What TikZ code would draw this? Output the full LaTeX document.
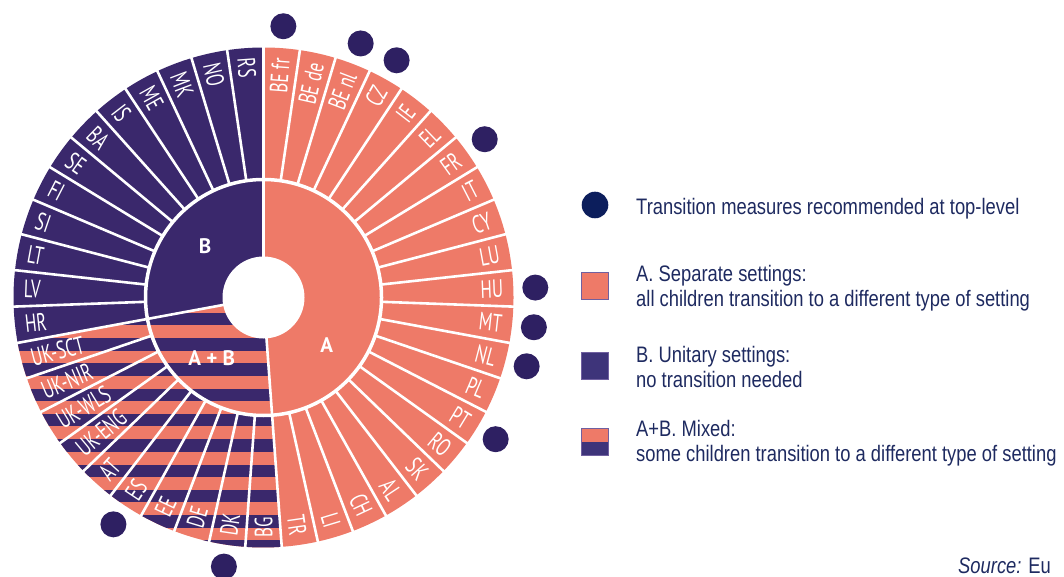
\documentclass[tikz,border=0pt]{standalone}
\usepackage{fontspec}
\setmainfont{Liberation Sans}[FakeStretch=0.82]
\newfontfamily\countryfont{PT Sans}[FakeStretch=0.68]
\newfontfamily\groupfont{PT Sans}
\usetikzlibrary{positioning}

\definecolor{salmon}{RGB}{238,122,104}
\definecolor{unitary}{RGB}{58,40,108}
\definecolor{dotpurple}{RGB}{46,32,98}
\definecolor{legnavy}{RGB}{12,30,92}
\definecolor{legtext}{RGB}{30,42,96}
\definecolor{legunit}{RGB}{62,52,122}
\definecolor{legedge}{RGB}{112,96,160}

\newcommand{\segangle}{8.372093}
% filled sector of the disc between two angles
\newcommand{\drawsector}[3]{
    \fill[#1] (0,0) -- (#2:250) arc[start angle=#2, end angle=#3, radius=250] -- cycle;
}

\begin{document}
\begin{tikzpicture}[x=1pt, y=1pt,
    divider/.style={draw=white, line width=2.6pt},
    country/.style={text=white, inner sep=0pt, font=\countryfont\fontsize{25}{30}\selectfont},
    group/.style={text=white, inner sep=0pt, font=\groupfont\bfseries\fontsize{21}{25}\selectfont},
    topdot/.style={circle, fill=dotpurple, minimum size=26pt, inner sep=0pt},
    legbox/.style={draw=legedge, line width=0.8pt, minimum size=27pt, inner sep=0pt},
    legtxt/.style={text=legtext, inner sep=0pt, anchor=base west, font=\fontsize{22.4}{25}\selectfont}
]
\useasboundingbox (0,0) rectangle (1064,576);

% Centre of the wheel
\coordinate (centre) at (263.5,278.5);

\begin{scope}[shift={(centre)}]
% A and B sectors
\drawsector{salmon}{90}{-85.814}
\drawsector{unitary}{-169.535}{-270}

% A+B sector with stripes
\begin{scope}
    \clip (0,0) -- (-85.814:250) arc[start angle=-85.814, end angle=-169.535, radius=250] -- cycle;
    \fill[salmon] (-260,-260) rectangle (20,20);
    \foreach \k in {-2,...,8} {
        \fill[unitary] (-260,{-40.5-25.3*\k}) rectangle (20,{-53-25.3*\k});
    }
\end{scope}

% Dividers between countries
\foreach \i in {0,...,42} {
    \draw[divider] ({90-\segangle*\i}:118) -- ({90-\segangle*\i}:252);
}
% Dividers between groups
\foreach \a in {90,-85.814,-169.535} {
    \draw[divider] (\a:30) -- (\a:118);
}
\draw[white, line width=3.5pt] (0,0) circle (118);
\fill[white] (0,0) circle (41);

% Country labels
\foreach \name [count=\i from 0] in {BE fr, BE de, BE nl, CZ, IE, EL, FR, IT, CY, LU, HU, MT, NL, PL, PT, RO, SK, AL, CH, LI, TR, BG, DK, DE, EE, ES, AT, UK-ENG, UK-WLS, UK-NIR, UK-SCT, HR, LV, LT, SI, FI, SE, BA, IS, ME, MK, NO, RS} {
    \pgfmathsetmacro{\ang}{90-\segangle*(\i+0.5)}
    \pgfmathsetmacro{\rot}{\ang+180}
    \ifnum\i<21
        \node[country, anchor=east, rotate=\ang] (c\i) at (\ang:240) {\name};
    \else
        \node[country, anchor=west, rotate=\rot] (c\i) at (\ang:240) {\name};
    \fi
}

% Top-level transition dots
\foreach \i in {0,2,3,6,10,11,12,14,22,25} {
    \node[topdot] (dot\i) at ({90-\segangle*(\i+0.5)}:272) {};
}

% Group labels
\node[group] (grpB) at (-58.5,51.5) {B};
\node[group] (grpA) at (63.2,-47.5) {A};
\node[group] (grpAB) at (-51.8,-60.8) {A + B};
\end{scope}

% Legend
\node[circle, fill=legnavy, minimum size=26.6pt, inner sep=0pt] (legdot) at (595,371) {};
\node[legtxt] (legdottxt) at (636,361) {Transition measures recommended at top-level};

\node[legbox, fill=salmon] (boxA) at (595,290) {};
\node[legtxt] (legA) at (636,294.3) {A. Separate settings:};
\node[legtxt] (legAsub) at ([yshift=-25pt]legA.base west) {all children transition to a different type of setting};

\node[legbox, fill=legunit] (boxB) at (595,209.7) {};
\node[legtxt] (legB) at (636,213.3) {B. Unitary settings:};
\node[legtxt] (legBsub) at ([yshift=-24.6pt]legB.base west) {no transition needed};

\node[legbox, fill=salmon, path picture={
    \fill[legunit] (path picture bounding box.west) rectangle (path picture bounding box.south east);
}] (boxAB) at (595,134.5) {};
\node[legtxt] (legAB) at (636,139.3) {A+B. Mixed:};
\node[legtxt] (legABsub) at ([yshift=-25pt]legAB.base west) {some children transition to a different type of setting};

% Source line
\node[legtxt] (source) at (958,3) {\textit{Source:} Eu};

\end{tikzpicture}
\end{document}
